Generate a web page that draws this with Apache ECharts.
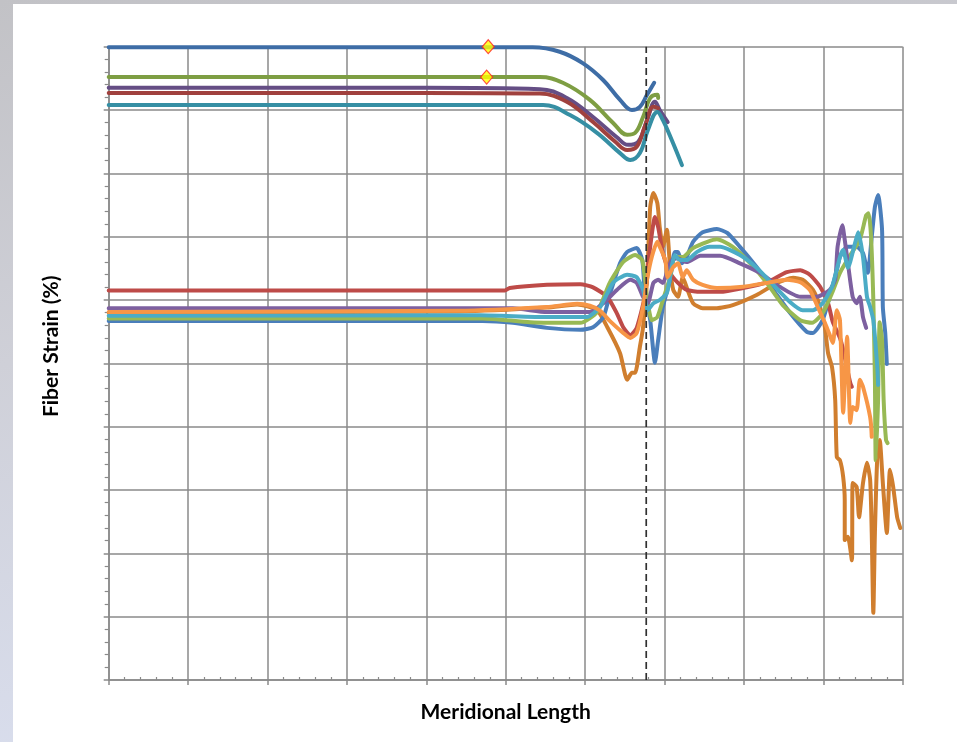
<!DOCTYPE html>
<html><head><meta charset="utf-8">
<script src="https://cdn.jsdelivr.net/npm/echarts@6/dist/echarts.min.js"></script>
<style>
html,body{margin:0;padding:0;width:957px;height:742px;overflow:hidden;}
body{background:linear-gradient(170deg,#c2c2c6 0%,#cfd0d8 40%,#dce2f4 100%);position:relative;}
#panel{position:absolute;left:13px;top:4px;right:0;bottom:0;background:#fff;}
#chart{position:absolute;left:0;top:0;width:957px;height:742px;}
</style></head>
<body><div id="panel"></div><div id="chart"></div>
<script>
// x: meridional length (arbitrary units 0-100), y: fiber strain (arbitrary units 0-100)
const xTicks = [0,10,20,30,40,50,60,70,80,90,100];
const yTicks = [0,10,20,30,40,50,60,70,80,90,100];
const dashX = 67.7;
const markerPoints = [[47.8,100.0],[47.6,95.2]];

// Upper group
const blueTop = [[0,99.9],[20,99.9],[40,99.9],[53.4,99.9],[56.8,99.2],[59.7,97.4],[62.3,94.7],[64.4,91.6],[65.9,90.0],[66.9,90.5],[67.8,92.4],[68.7,94.3]];
const greenTop = [[0,95.2],[20,95.2],[40,95.2],[54.3,95.2],[57.2,94.3],[60.6,91.6],[63.5,88.0],[65.3,86.1],[66.3,86.4],[67.3,88.9],[68.2,91.9],[69.1,92.4],[69.2,91.9]];
const purpleTop = [[0,93.5],[20,93.5],[40,93.5],[54.3,93.3],[57.7,91.9],[61.0,88.9],[64.0,85.7],[65.4,84.5],[66.7,85.0],[67.8,88.4],[68.8,91.3],[69.4,90.0],[70.4,88.1]];
const redTop = [[0,92.7],[20,92.7],[40,92.7],[54.3,92.6],[57.7,91.3],[61.0,88.1],[63.8,85.0],[65.3,83.7],[66.5,84.2],[67.5,87.3],[68.6,90.5],[69.2,90.3]];
const cyanTop = [[0,90.8],[20,90.8],[40,90.8],[54.7,90.8],[58.1,89.2],[61.5,86.4],[64.4,83.2],[65.7,82.1],[66.9,83.2],[67.9,86.8],[69.1,89.7],[69.8,88.4],[70.9,85.3],[72.2,81.3]];

// Lower group
const darkOrange = [[0,58.0],[44.0,58.2],[55.2,58.8],[59.0,59.3],[61.5,58.4],[62.8,55.7],[64.4,51.6],[65.3,47.4],[65.9,48.5],[66.3,48.5],[66.9,52.6],[67.3,55.7],[67.8,63.2],[68.2,74.7],[68.6,76.9],[69.1,75.3],[69.4,71.5],[69.8,68.4],[70.3,71.1],[70.7,65.2],[71.1,61.6],[71.7,60.5],[72.3,63.6],[72.9,61.6],[73.6,59.5],[74.8,58.7],[76.6,58.7],[78.6,59.2],[81.6,60.8],[84.2,62.7],[86.2,63.5],[87.4,63.2],[88.7,61.6],[89.6,58.9],[90.2,55.7],[90.6,51.6],[91.1,49.4],[91.5,44.2],[91.7,35.2],[92.1,34.7],[92.5,32.1],[92.7,28.4],[92.7,22.1],[93.1,22.6],[93.6,18.9],[93.7,31.1],[94.2,30.5],[94.5,25.7],[95.0,31.1],[95.5,34.3],[95.9,31.6],[96.1,23.2],[96.3,10.6],[96.5,23.2],[96.8,35.2],[97.1,37.9],[97.5,31.1],[98.0,23.2],[98.4,33.2],[98.8,30.5],[99.3,25.7],[99.7,24.0]];
const blueLow = [[0,56.7],[47.1,56.7],[50.9,56.4],[55.2,55.6],[59.4,55.3],[61.0,55.7],[62.3,57.3],[63.1,60.8],[64.4,65.8],[65.3,67.6],[66.5,68.2],[67.2,66.3],[67.5,61.6],[68.2,56.8],[68.8,50.1],[69.2,53.7],[69.8,58.9],[70.7,63.2],[71.3,67.6],[71.7,67.6],[72.2,65.8],[72.8,66.8],[73.6,69.2],[74.8,70.7],[76.6,71.2],[77.9,70.6],[79.5,68.4],[81.6,65.2],[83.7,61.6],[85.8,58.0],[87.9,55.0],[88.7,54.8],[89.9,56.8],[90.8,60.5],[91.7,64.7],[92.1,66.8],[93.0,68.4],[94.2,68.4],[95.0,67.4],[95.6,64.3],[96.1,70.0],[96.5,74.7],[96.9,76.6],[97.4,71.1],[97.5,58.9],[97.8,54.8],[98.0,49.9]];
const redLow = [[0,61.5],[49.9,61.5],[50.5,61.9],[55.2,62.4],[59.4,62.5],[61.0,62.0],[62.8,60.5],[64.0,57.9],[64.8,55.7],[65.7,54.4],[66.5,55.6],[67.5,60.5],[68.2,68.4],[68.8,73.1],[69.2,71.5],[69.8,67.4],[70.7,64.3],[71.7,62.7],[72.8,61.6],[74.5,61.3],[77.0,61.3],[79.9,61.9],[82.9,62.8],[85.4,64.4],[87.1,64.7],[88.3,64.0],[89.6,62.1],[90.6,59.5],[91.2,56.5],[92.1,54.0],[92.5,52.1],[93.4,46.9],[93.6,46.3]];
const greenLow = [[0,57.1],[47.1,57.1],[53.1,56.5],[59.4,56.4],[61.5,58.1],[63.1,62.7],[64.8,66.0],[66.3,67.1],[67.2,66.3],[67.8,60.5],[68.4,56.8],[69.1,57.3],[69.8,60.0],[70.7,63.6],[71.3,66.8],[72.3,66.8],[73.6,68.2],[75.4,69.2],[76.6,69.6],[78.6,68.4],[80.8,65.8],[82.9,62.7],[84.9,59.2],[87.1,56.8],[88.6,56.4],[89.9,57.9],[91.1,61.1],[92.1,64.3],[93.4,67.1],[94.6,69.5],[95.4,73.4],[95.7,73.7],[96.0,70.3],[96.3,60.0],[96.5,47.4],[96.6,34.7],[96.9,44.2],[97.1,56.5],[97.4,53.7],[97.6,44.2],[97.9,37.9],[98.1,37.4]];
const purpleLow = [[0,58.7],[50.9,58.7],[55.2,58.1],[60.6,58.1],[62.3,59.5],[64.0,61.6],[65.7,63.2],[66.5,62.7],[67.3,60.5],[67.9,59.5],[68.6,62.7],[69.2,63.2],[69.8,62.7],[70.3,64.3],[70.9,66.3],[71.6,66.6],[72.8,66.0],[74.5,67.0],[77.0,67.0],[79.5,65.8],[82.0,64.3],[84.5,62.1],[87.1,60.5],[89.2,60.5],[90.8,61.6],[91.5,63.2],[91.8,68.4],[92.4,71.8],[92.7,69.5],[93.1,65.8],[93.7,60.5],[94.2,59.5],[94.6,60.5],[95.0,57.3],[95.4,55.6]];
const cyanLow = [[0,57.5],[46.8,57.6],[55.2,57.3],[60.2,57.3],[61.9,58.9],[63.5,62.7],[65.3,64.0],[66.5,63.6],[67.3,61.6],[67.9,58.4],[68.6,59.5],[69.4,60.0],[70.3,61.1],[70.9,65.2],[71.3,67.1],[71.9,66.3],[72.8,66.3],[74.1,67.6],[75.7,68.4],[77.0,68.4],[79.5,67.1],[81.6,65.1],[83.7,62.4],[85.8,59.7],[87.4,58.4],[88.7,58.4],[89.9,59.5],[91.1,62.1],[92.1,66.8],[92.5,67.9],[93.1,65.1],[94.0,69.0],[94.4,70.7],[95.0,66.8],[95.5,60.5],[95.9,58.9],[96.3,56.8],[96.8,49.4],[96.9,46.6]];
const orangeLow = [[0,58.1],[44.0,58.3],[55.2,58.9],[59.0,59.4],[60.6,59.1],[61.9,58.3],[63.1,56.7],[64.8,54.8],[65.7,54.0],[66.5,54.8],[67.3,58.9],[67.8,63.2],[68.4,66.8],[69.1,69.2],[69.4,68.4],[70.1,66.3],[70.4,63.6],[71.1,65.2],[71.7,65.8],[72.3,63.6],[72.8,64.7],[73.6,63.2],[74.8,62.4],[76.6,61.9],[79.9,62.1],[82.9,62.7],[85.4,63.2],[87.1,62.8],[88.3,61.6],[89.3,58.9],[90.2,56.4],[90.8,54.5],[91.2,53.2],[91.7,58.4],[92.1,56.8],[92.5,42.2],[93.0,54.2],[93.4,40.6],[93.7,43.1],[94.2,42.6],[94.6,47.4],[95.0,46.3],[95.9,41.5],[96.1,38.4]];

function line(name, data, color, smooth){
  return {name, type:'line', data, showSymbol:false, symbol:'none', smooth: smooth,
    lineStyle:{color, width:4, cap:'round', join:'round'}, itemStyle:{color}, z:2, silent:true, animation:false};
}
const chart = echarts.init(document.getElementById('chart'), null, {renderer:'canvas'});
const axisCommon = {
  type:'value', min:0, max:100, interval:10,
  axisLabel:{show:false},
  axisLine:{show:true, onZero:false, lineStyle:{color:'#8a8a8a', width:1.5}},
  splitLine:{show:true, lineStyle:{color:'#8a8a8a', width:1.5}},
};
const nameStyle = {fontFamily:'Lato', fontWeight:'bold', fontSize:21, color:'#000'};
chart.setOption({
  animation:false,
  backgroundColor:'transparent',
  grid:{left:108.7, right:54.3, top:46.7, bottom:62, containLabel:false},
  xAxis:[
    Object.assign({}, axisCommon, {
      name:'Meridional Length', nameLocation:'middle', nameGap:22,
      nameTextStyle:nameStyle,
      axisTick:{show:true, length:5, lineStyle:{color:'#8a8a8a', width:1.5}},
      minorTick:{show:false}
    }),
    Object.assign({}, axisCommon, {
      position:'bottom', splitLine:{show:false}, axisLine:{show:false},
      axisTick:{show:false, inside:true},
      minorTick:{show:true, splitNumber:5, length:3, lineStyle:{color:'#8a8a8a', width:1.2}}
    })
  ],
  yAxis:{
    ...axisCommon,
    name:'Fiber Strain (%)', nameLocation:'middle', nameGap:47,
    nameTextStyle:Object.assign({}, nameStyle, {padding:[0,0,0,34]}),
    axisTick:{show:true, length:5, lineStyle:{color:'#8a8a8a', width:1.5}},
    minorTick:{show:true, splitNumber:5, length:4, lineStyle:{color:'#8a8a8a', width:1.2}}
  },
  series:[
    line('Dark orange', darkOrange, '#D07E2E', 0.2),
    line('Blue', blueLow, '#4A7EBB', 0.2),
    line('Red', redLow, '#BE4B48', 0.2),
    line('Green', greenLow, '#98B954', 0.2),
    line('Purple', purpleLow, '#7D60A0', 0.2),
    line('Cyan', cyanLow, '#4BACC6', 0.2),
    line('Orange', orangeLow, '#F79646', 0.2),
    line('Blue top', blueTop, '#3E6DA6', 0.4),
    line('Green top', greenTop, '#7E9E43', 0.4),
    line('Purple top', purpleTop, '#654E85', 0.4),
    line('Red top', redTop, '#A0413E', 0.4),
    line('Cyan top', cyanTop, '#368FA4', 0.4),
    {name:'Marker line', type:'line', data:[[dashX,0],[dashX,100]], showSymbol:false, symbol:'none',
      lineStyle:{color:'#303030', width:1.7, type:[7,4]}, z:3, silent:true},
    {name:'Markers', type:'scatter', data:markerPoints, symbol:'diamond', symbolSize:[12,14],
      itemStyle:{color:'#FFFF00', borderColor:'#FF2020', borderWidth:1.2}, z:5, silent:true}
  ]
});
</script></body></html>
